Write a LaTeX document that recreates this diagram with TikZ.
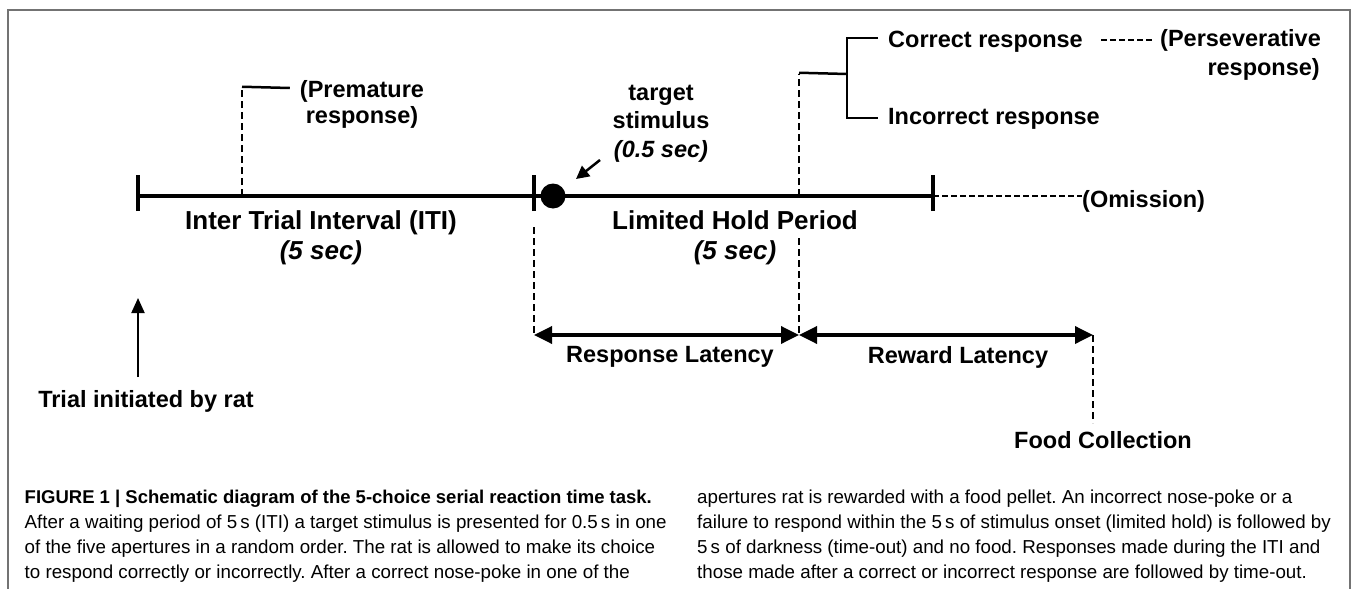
\documentclass[tikz,border=0pt]{standalone}
\usepackage{fontspec}
\setmainfont{Liberation Sans}
\usetikzlibrary{arrows.meta}
\frenchspacing
\begin{document}
\begin{tikzpicture}[x=1pt,y=-1pt,
  lbl/.style={font=\bfseries\fontsize{23.5}{28}\selectfont, inner sep=0pt, anchor=base},
  big/.style={font=\bfseries\fontsize{26}{30}\selectfont, inner sep=0pt, anchor=base},
  bigit/.style={font=\bfseries\itshape\fontsize{26}{30}\selectfont, inner sep=0pt, anchor=base},
  capb/.style={font=\bfseries\fontsize{18.5}{25}\selectfont, inner sep=0pt, anchor=base west},
  capr/.style={font=\fontsize{18.75}{25}\selectfont, inner sep=0pt, anchor=base west},
  tl/.style={line width=4pt},
  dsh/.style={line width=2pt, dash pattern=on 7pt off 4pt},
  thindsh/.style={line width=1.5pt, dash pattern=on 6pt off 3pt},
  brk/.style={line width=2.5pt},
  lat/.style={line width=3.5pt, {Triangle[length=18pt,width=17pt]}-{Triangle[length=18pt,width=17pt]}},
  frame/.style={draw=black!55, line width=1.5pt}
]
\useasboundingbox (0,0) rectangle (1355,589);
% frame
\draw[frame] (8,589) -- (8,10) -- (1350,10) -- (1350,589);

% timeline coordinates
\coordinate (t0) at (138,196);
\coordinate (t1) at (534,196);
\coordinate (t2) at (933,196);
\draw[tl] (t0) -- (t2);
\draw[tl] ([yshift=-15pt]t0) -- ([yshift=21pt]t0);
\draw[tl] ([yshift=-15pt]t1) -- ([yshift=21pt]t1);
\draw[tl] ([yshift=-15pt]t2) -- ([yshift=21pt]t2);
\node[circle, fill=black, minimum size=25pt, inner sep=0pt] (dot) at (553,196) {};

% premature response
\node[lbl] (prem1) at (362,97) {(Premature};
\node[lbl] (prem2) at (362,123) {response)};
\coordinate (pm) at (242,196);
\coordinate (pmt) at (242,88);
\draw[dsh] (pm) -- (pmt);
\draw[brk] ([yshift=1.25pt]pmt) -- ([xshift=-10pt]prem1.west |- pmt);

% target stimulus
\node[lbl] (tg1) at (661,100) {target};
\node[lbl] (tg2) at (661,128) {stimulus};
\node[lbl, font=\bfseries\itshape\fontsize{23.5}{28}\selectfont] (tg3) at (661,157) {(0.5 sec)};
\coordinate (ta) at (600,160);
\coordinate (tb) at (576,179);
\draw[line width=2.5pt, -{Triangle[length=13pt,width=13pt]}] (ta) -- (tb);

% interval labels
\node[big] (iti) at (321,229) {Inter Trial Interval (ITI)};
\node[bigit] (iti5) at (321,259) {(5 sec)};
\node[big] (lhp) at (735,229) {Limited Hold Period};
\node[bigit] (lhp5) at (735,259) {(5 sec)};

% response branch
\coordinate (rb) at (799,196);
\coordinate (rt) at (799,74);
\coordinate (bm) at (847,74);
\coordinate (bt) at (847,38);
\coordinate (bb) at (847,118);
\draw[dsh] (rb) -- (rt);
\draw[brk] ([yshift=1.25pt]rt) -- (bm);
\node[lbl, anchor=base west] (cor) at (888,47) {Correct response};
\node[lbl, anchor=base west] (inc) at (888,124) {Incorrect response};
\draw[brk] ([xshift=-10pt]cor.west |- bt) -- (bt) -- (bb) -- ([xshift=-10pt]inc.west |- bb);

% perseverative
\node[lbl, anchor=base west] (per1) at (1160,46) {(Perseverative};
\node[lbl, anchor=base east] (per2) at (1320,75) {response)};
\draw[thindsh] ([xshift=18pt]cor.east |- 0,40) -- ([xshift=-8pt]per1.west |- 0,40);

% omission
\node[lbl, anchor=base west] (om) at (1082,207) {(Omission)};
\draw[thindsh] (t2) -- (om.west |- t2);

% latencies
\coordinate (l0t) at (534,227);
\coordinate (l0) at (534,335);
\coordinate (l1t) at (799,238);
\coordinate (l1) at (799,335);
\coordinate (l2) at (1093,335);
\coordinate (l2b) at (1093,423);
\draw[dsh] (l0t) -- (l0);
\draw[dsh] (l1t) -- (l1);
\draw[dsh] (l2) -- (l2b);
\draw[lat] (l0) -- (l1);
\draw[lat] (l1) -- (l2);
\node[lbl] (resl) at (670,362) {Response Latency};
\node[lbl] (rewl) at (958,363) {Reward Latency};
\node[lbl] (food) at (1103,448) {Food Collection};

% trial initiated
\node[lbl] (trial) at (146,407) {Trial initiated by rat};
\coordinate (ar0) at (138,377);
\coordinate (ar1) at (138,298);
\draw[line width=2pt, -{Triangle[length=15pt,width=13pt]}] (ar0) -- (ar1);

% caption
\node[capb] (c1) at (24.5,503) {FIGURE 1 | Schematic diagram of the 5-choice serial reaction time task.};
\node[capr] (c2) at (24.5,528) {After a waiting period of 5\,s (ITI) a target stimulus is presented for 0.5\,s in one};
\node[capr] (c3) at (24.5,553) {of the five apertures in a random order. The rat is allowed to make its choice};
\node[capr] (c4) at (24.5,578) {to respond correctly or incorrectly. After a correct nose-poke in one of the};
\node[capr] (c5) at (697,503) {apertures rat is rewarded with a food pellet. An incorrect nose-poke or a};
\node[capr] (c6) at (697,528) {failure to respond within the 5\,s of stimulus onset (limited hold) is followed by};
\node[capr] (c7) at (697,553) {5\,s of darkness (time-out) and no food. Responses made during the ITI and};
\node[capr] (c8) at (697,578) {those made after a correct or incorrect response are followed by time-out.};
\end{tikzpicture}
\end{document}
